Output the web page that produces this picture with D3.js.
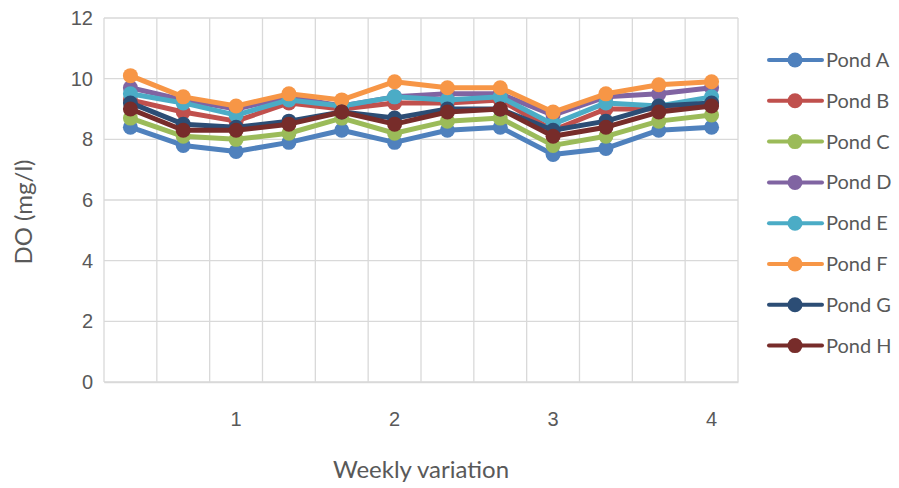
<!DOCTYPE html>
<html>
<head>
<meta charset="utf-8">
<script src="https://cdn.jsdelivr.net/npm/d3@7"></script>
<style>
  html, body { margin: 0; padding: 0; background: #fff; }
  svg { display: block; font-family: Lato, "Open Sans", sans-serif; }
</style>
</head>
<body>
<svg id="chart" width="899" height="488"></svg>
<script>
const categories = ["", "", "1", "", "", "2", "", "", "3", "", "", "4"];
const yTicks = [0, 2, 4, 6, 8, 10, 12];
const seriesNames = ["Pond A", "Pond B", "Pond C", "Pond D", "Pond E", "Pond F", "Pond G", "Pond H"];
const pondA = [8.4, 7.8, 7.6, 7.9, 8.3, 7.9, 8.3, 8.4, 7.5, 7.7, 8.3, 8.4];
const pondB = [9.3, 8.9, 8.6, 9.2, 9.0, 9.2, 9.2, 9.3, 8.3, 9.0, 9.0, 9.2];
const pondC = [8.7, 8.1, 8.0, 8.2, 8.7, 8.2, 8.6, 8.7, 7.8, 8.1, 8.6, 8.8];
const pondD = [9.7, 9.3, 9.0, 9.4, 9.1, 9.4, 9.5, 9.5, 8.8, 9.4, 9.5, 9.7];
const pondE = [9.5, 9.2, 8.8, 9.3, 9.1, 9.4, 9.3, 9.4, 8.5, 9.2, 9.1, 9.4];
const pondF = [10.1, 9.4, 9.1, 9.5, 9.3, 9.9, 9.7, 9.7, 8.9, 9.5, 9.8, 9.9];
const pondG = [9.2, 8.5, 8.4, 8.6, 8.9, 8.7, 9.0, 9.0, 8.3, 8.6, 9.1, 9.2];
const pondH = [9.0, 8.3, 8.3, 8.5, 8.9, 8.5, 8.9, 9.0, 8.1, 8.4, 8.9, 9.1];
const seriesValues = [pondA, pondB, pondC, pondD, pondE, pondF, pondG, pondH];
const colors = ["#4F81BD", "#C0504D", "#9BBB59", "#8064A2", "#4BACC6", "#F79646", "#2C4D75", "#772C2A"];

(function () {
const svg = d3.select("#chart");
const mLeft = 104, mRight = 738, mTop = 18, mBottom = 382;
const idx = d3.range(categories.length);

const x = d3.scaleBand().domain(idx).range([mLeft, mRight]).paddingInner(0).paddingOuter(0);
const y = d3.scaleLinear().domain([0, 12]).range([mBottom, mTop]);
const cx = i => x(i) + x.bandwidth() / 2;

const grid = svg.append("g");
grid.selectAll("line.h").data(yTicks).join("line")
  .attr("x1", mLeft).attr("x2", mRight)
  .attr("y1", d => y(d)).attr("y2", d => y(d))
  .attr("stroke", "#d9d9d9").attr("stroke-width", 1.3);
const vb = idx.map(i => x(i)).concat([mRight]);
grid.selectAll("line.v").data(vb).join("line")
  .attr("x1", d => d).attr("x2", d => d)
  .attr("y1", mTop).attr("y2", mBottom)
  .attr("stroke", "#d9d9d9").attr("stroke-width", 1.3);

const yAxis = d3.axisLeft(y).tickValues(yTicks).tickSize(0).tickPadding(11);
const yg = svg.append("g").attr("transform", `translate(${mLeft},0)`).call(yAxis);
yg.select(".domain").remove();
yg.selectAll("text").attr("fill", "#595959").style("font-size", "20px");

const xAxis = d3.axisBottom(x).tickFormat(i => categories[i]).tickSize(0).tickPadding(30);
const xg = svg.append("g").attr("transform", `translate(0,${mBottom})`).call(xAxis);
xg.select(".domain").attr("stroke", "#d9d9d9").attr("stroke-width", 1.5);
xg.selectAll("text").attr("fill", "#595959").style("font-size", "20px");

svg.append("text").attr("x", 421).attr("y", 478).attr("text-anchor", "middle")
  .attr("fill", "#595959").style("font-size", "24px").text("Weekly variation");
svg.append("text").attr("transform", "translate(32,212) rotate(-90)").attr("text-anchor", "middle")
  .attr("fill", "#595959").style("font-size", "24px").text("DO (mg/l)");

const line = d3.line().x((d, i) => cx(i)).y(d => y(d));
const sg = svg.append("g");
seriesValues.forEach((vals, s) => {
  const g = sg.append("g");
  g.append("path").datum(vals).attr("d", line)
    .attr("fill", "none").attr("stroke", colors[s]).attr("stroke-width", 5)
    .attr("stroke-linejoin", "round").attr("stroke-linecap", "round");
  g.selectAll("circle").data(vals).join("circle")
    .attr("cx", (d, i) => cx(i)).attr("cy", d => y(d)).attr("r", 7.5)
    .attr("fill", colors[s]);
});

const lg = svg.append("g");
seriesNames.forEach((name, s) => {
  const ly = 60 + s * 40.8;
  lg.append("line").attr("x1", 769).attr("x2", 822).attr("y1", ly).attr("y2", ly)
    .attr("stroke", colors[s]).attr("stroke-width", 4).attr("stroke-linecap", "round");
  lg.append("circle").attr("cx", 795).attr("cy", ly).attr("r", 7.5).attr("fill", colors[s]);
  lg.append("text").attr("x", 826).attr("y", ly).attr("dy", "0.35em")
    .attr("fill", "#595959").style("font-size", "20px").text(name);
});
})();
</script>
</body>
</html>
